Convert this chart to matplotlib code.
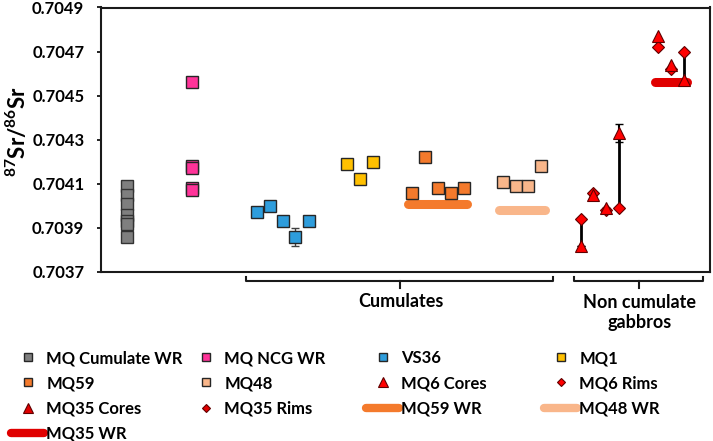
import matplotlib
matplotlib.use("Agg")
import matplotlib.pyplot as plt
from matplotlib.lines import Line2D
import numpy as np

plt.rcParams['font.family'] = ['Lato', 'DejaVu Sans']
plt.rcParams['font.weight'] = 'bold'
plt.rcParams['mathtext.fontset'] = 'custom'
plt.rcParams['mathtext.rm'] = 'Lato:bold'
plt.rcParams['mathtext.it'] = 'Lato:bold'
plt.rcParams['mathtext.bf'] = 'Lato:bold'

# ---- data ----
cum_wr_x = [2.6] * 7
cum_wr = [0.70409, 0.70405, 0.70401, 0.70396, 0.70393, 0.70392, 0.70386]

ncg_x = [9.1] * 5
ncg = [0.70456, 0.70418, 0.70417, 0.70408, 0.70407]

vs36_x = [15.6, 16.9, 18.2, 19.4, 20.8]
vs36 = [0.70397, 0.70400, 0.70393, 0.70386, 0.70393]
vs36_err = [0, 0, 0, 0.00004, 0]

mq1_x = [24.6, 25.9, 27.2]
mq1 = [0.70419, 0.70412, 0.70420]

mq59_x = [31.1, 32.4, 33.7, 35.0, 36.3]
mq59 = [0.70406, 0.70422, 0.70408, 0.70406, 0.70408]

mq48_x = [40.2, 41.5, 42.7, 44.0]
mq48 = [0.70411, 0.70409, 0.70409, 0.70418]

mq6_x = [48.0, 49.2, 50.5, 51.8]
mq6_cores = [0.70382, 0.70405, 0.70399, 0.70433]
mq6_cores_err = [0, 0, 0, 0.00004]
mq6_rims = [0.70394, 0.70406, 0.70398, 0.70399]
mq6_linked = [0, 3]

mq35_x = [55.7, 57.0, 58.3]
mq35_cores = [0.70477, 0.70464, 0.70457]
mq35_rims = [0.70472, 0.70462, 0.70470]
mq35_linked = [2]

mq59_wr, mq59_wr_x = 0.70401, (30.7, 36.6)
mq48_wr, mq48_wr_x = 0.70398, (39.8, 44.4)
mq35_wr, mq35_wr_x = 0.70456, (55.4, 58.6)

groups = ["Cumulates", "Non cumulate\ngabbros"]
group_span = [(14.5, 45.2), (47.3, 60.2)]

yticks = [0.7037, 0.7039, 0.7041, 0.7043, 0.7045, 0.7047, 0.7049]

c_gray = '#7f7f7f'
c_pink = '#ff3399'
c_blue = '#2e9ddc'
c_yellow = '#ffc000'
c_orange = '#f47a2c'
c_peach = '#f9b68a'
c_red = '#ff0000'
c_red2 = '#e00000'

fig = plt.figure(figsize=(7.13, 4.41), dpi=100)
ax = fig.add_axes([101 / 713, 1 - 272 / 441, 609 / 713, 264.5 / 441])

sq = dict(marker='s', ms=9, ls='none', mec='#262626', mew=1.0, zorder=4)
ax.plot(cum_wr_x, cum_wr, mfc=c_gray, **dict(sq, mec='#333333'))
ax.plot(ncg_x, ncg, mfc=c_pink, **sq)
ax.errorbar(vs36_x, vs36, yerr=vs36_err, fmt='none', ecolor='#404040',
            elinewidth=1, capsize=3, zorder=3)
ax.plot(vs36_x, vs36, mfc=c_blue, **sq)
ax.plot(mq1_x, mq1, mfc=c_yellow, **sq)
ax.plot(mq59_x, mq59, mfc=c_orange, **sq)
ax.plot(mq48_x, mq48, mfc=c_peach, **sq)

# whole-rock bars
ax.plot(mq59_wr_x, [mq59_wr] * 2, color=c_orange, lw=6.5, solid_capstyle='round', zorder=2)
ax.plot(mq48_wr_x, [mq48_wr] * 2, color=c_peach, lw=6.5, solid_capstyle='round', zorder=2)
ax.plot(mq35_wr_x, [mq35_wr] * 2, color=c_red2, lw=6.5, solid_capstyle='round', zorder=2)

# core-rim tie lines
for i in mq6_linked:
    ax.plot([mq6_x[i]] * 2, [mq6_cores[i], mq6_rims[i]], color='black', lw=2, zorder=3)
for i in mq35_linked:
    ax.plot([mq35_x[i]] * 2, [mq35_cores[i], mq35_rims[i]], color='black', lw=2, zorder=3)

ax.errorbar(mq6_x, mq6_cores, yerr=mq6_cores_err, fmt='none', ecolor='black',
            elinewidth=1.5, capsize=3, zorder=3)
ax.plot(mq6_x, mq6_rims, marker='D', ms=6, ls='none', mfc=c_red, mec='#600000', mew=0.8, zorder=4)
ax.plot(mq6_x, mq6_cores, marker='^', ms=8.5, ls='none', mfc=c_red, mec='#600000', mew=0.8, zorder=5)
ax.plot(mq35_x, mq35_rims, marker='D', ms=6, ls='none', mfc=c_red, mec='#600000', mew=0.8, zorder=4)
ax.plot(mq35_x, mq35_cores, marker='^', ms=8.5, ls='none', mfc=c_red, mec='#600000', mew=0.8, zorder=5)

ax.set_xlim(0, 60.9)
ax.set_ylim(0.7037, 0.7049)
ax.set_xticks([])
ax.set_yticks(yticks)
ax.set_yticklabels([f'{t:.4f}' for t in yticks], fontsize=12, fontweight='bold')
ax.tick_params(axis='y', direction='out', length=3, width=1.2, pad=9)
for s in ax.spines.values():
    s.set_linewidth(1.5)
    s.set_color('#1a1a1a')

ax.set_ylabel(r'$^{87}$Sr/$^{86}$Sr', fontsize=16, fontweight='bold')
ax.yaxis.set_label_coords(-0.117, 0.53)

# group brackets under the axis
tr = ax.get_xaxis_transform()
for (x0, x1), name in zip(group_span, groups):
    xm = (x0 + x1) / 2
    ax.plot([x0, x0, x1, x1], [-0.018, -0.034, -0.034, -0.018], color='#1a1a1a', lw=1.5,
            transform=tr, clip_on=False)
    ax.plot([xm, xm], [-0.034, -0.062], color='#1a1a1a', lw=1.5, transform=tr, clip_on=False)
    ytxt = -0.112 if '\n' not in name else -0.153
    ax.text(xm + 0.1, ytxt, name, transform=tr, ha='center', va='center', fontsize=13,
            fontweight='bold', linespacing=1.15, multialignment='center')

# legend laid out as a 4-column grid (row-major like the original)
def sq_h(c):
    return Line2D([], [], marker='s', ms=6, ls='none', mfc=c, mec='#262626', mew=1.0)

def tri_h(c):
    return Line2D([], [], marker='^', ms=6.5, ls='none', mfc=c, mec='#600000', mew=0.8)

def dia_h(c):
    return Line2D([], [], marker='D', ms=4.5, ls='none', mfc=c, mec='#600000', mew=0.8)

def bar_h(c):
    return Line2D([], [], color=c, lw=6, solid_capstyle='round')

entries = [
    (sq_h(c_gray), 'MQ Cumulate WR'), (sq_h(c_pink), 'MQ NCG WR'),
    (sq_h(c_blue), 'VS36'), (sq_h(c_yellow), 'MQ1'),
    (sq_h(c_orange), 'MQ59'), (sq_h(c_peach), 'MQ48'),
    (tri_h(c_red), 'MQ6 Cores'), (dia_h(c_red), 'MQ6 Rims'),
    (tri_h(c_red2), 'MQ35 Cores'), (dia_h(c_red2), 'MQ35 Rims'),
    (bar_h(c_orange), 'MQ59 WR'), (bar_h(c_peach), 'MQ48 WR'),
    (bar_h(c_red2), 'MQ35 WR'),
]
col_x = [11, 189, 366, 544]
for c in range(4):
    col = entries[c::4]
    fig.legend([h for h, _ in col], [l for _, l in col], loc='upper left',
               bbox_to_anchor=(col_x[c] / 713, 1 - 350 / 441), frameon=False,
               borderpad=0, borderaxespad=0, handlelength=2.0, handletextpad=0.12,
               labelspacing=0.55, prop={'size': 12, 'weight': 'bold'})

fig.savefig('out.png', dpi=100)
